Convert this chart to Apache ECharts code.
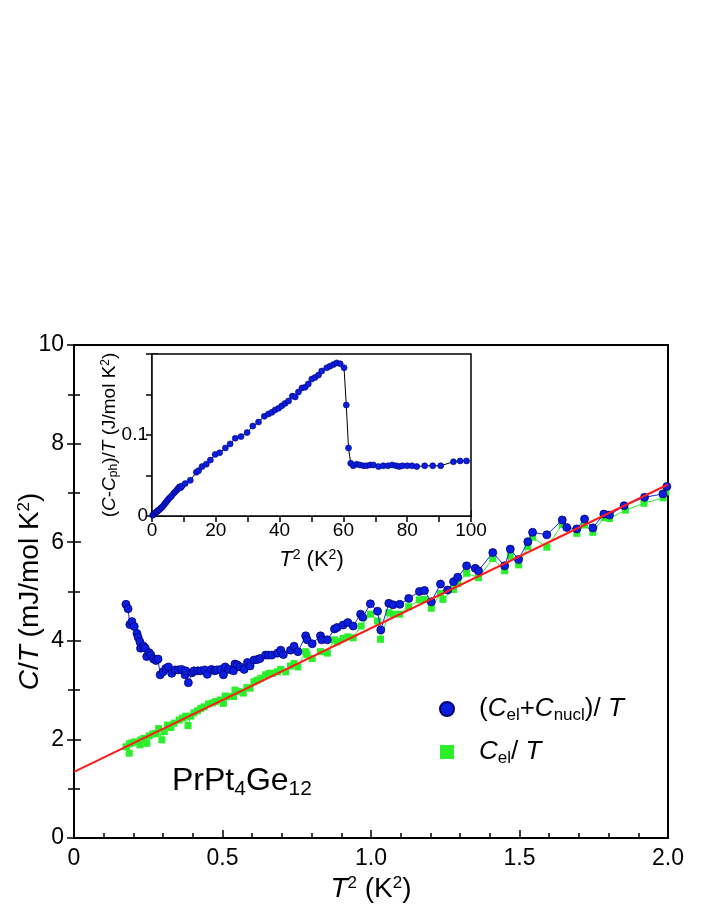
<!DOCTYPE html>
<html>
<head>
<meta charset="utf-8">
<script src="https://cdn.jsdelivr.net/npm/echarts@6/dist/echarts.min.js"></script>
<style>html,body{margin:0;padding:0;background:#fff}#c{width:706px;height:913px}</style>
</head>
<body>
<div id="c"></div>
<script>
// Main panel: (C_el + C_nucl)/T  vs T^2
const blueX = [0.175,0.182,0.188,0.195,0.203,0.212,0.216,0.222,0.224,0.234,0.240,0.245,0.253,0.259,0.268,0.276,0.283,0.290,0.300,0.309,0.318,0.329,0.341,0.351,0.362,0.374,0.376,0.385,0.397,0.404,0.416,0.427,0.440,0.449,0.463,0.474,0.481,0.494,0.503,0.509,0.522,0.537,0.542,0.550,0.559,0.573,0.584,0.593,0.606,0.617,0.626,0.645,0.654,0.666,0.685,0.696,0.705,0.729,0.741,0.754,0.780,0.785,0.802,0.830,0.834,0.853,0.877,0.886,0.906,0.922,0.940,0.965,0.972,0.998,1.022,1.033,1.060,1.074,1.097,1.127,1.163,1.180,1.203,1.234,1.258,1.278,1.292,1.322,1.351,1.362,1.410,1.450,1.469,1.497,1.528,1.544,1.592,1.644,1.659,1.693,1.719,1.747,1.784,1.803,1.852,1.921,1.983,1.996];
const blueY = [4.74,4.65,4.33,4.39,4.29,4.15,4.07,3.98,3.85,3.89,3.85,3.68,3.76,3.71,3.63,3.60,3.63,3.31,3.37,3.44,3.47,3.34,3.41,3.41,3.42,3.31,3.39,3.15,3.35,3.39,3.39,3.39,3.41,3.32,3.42,3.39,3.41,3.42,3.31,3.47,3.42,3.39,3.53,3.51,3.47,3.42,3.56,3.49,3.61,3.62,3.64,3.71,3.71,3.71,3.75,3.81,3.72,3.81,3.89,3.78,4.10,4.02,3.94,4.10,4.02,4.02,4.24,4.27,4.32,4.37,4.30,4.54,4.48,4.75,4.60,4.22,4.76,4.73,4.74,4.86,5.00,5.02,4.79,5.15,5.03,5.20,5.29,5.52,5.47,5.42,5.79,5.52,5.86,5.65,6.01,6.20,6.15,6.45,6.30,6.27,6.47,6.29,6.57,6.55,6.74,6.91,6.98,7.13];
// Main panel: C_el/T vs T^2
const greenX = [0.175,0.186,0.187,0.195,0.205,0.222,0.225,0.236,0.245,0.253,0.265,0.276,0.285,0.296,0.304,0.315,0.326,0.337,0.354,0.365,0.376,0.384,0.393,0.404,0.416,0.427,0.438,0.453,0.466,0.477,0.492,0.503,0.509,0.522,0.537,0.542,0.556,0.570,0.582,0.593,0.606,0.617,0.629,0.645,0.657,0.668,0.685,0.696,0.713,0.729,0.741,0.754,0.780,0.785,0.802,0.830,0.853,0.877,0.886,0.906,0.922,0.940,0.967,0.998,1.022,1.032,1.060,1.074,1.097,1.127,1.163,1.180,1.203,1.234,1.242,1.278,1.292,1.322,1.362,1.410,1.450,1.469,1.497,1.528,1.544,1.592,1.644,1.693,1.719,1.747,1.785,1.803,1.857,1.919,1.984,1.993];
const greenY = [1.85,1.72,1.91,1.93,1.95,1.89,1.99,2.02,1.92,2.07,2.11,2.12,2.22,1.99,2.16,2.29,2.24,2.33,2.39,2.43,2.47,2.28,2.47,2.54,2.58,2.63,2.66,2.72,2.74,2.77,2.80,2.73,2.88,2.87,2.87,3.00,2.97,2.94,3.05,3.04,3.17,3.20,3.24,3.31,3.34,3.34,3.37,3.42,3.37,3.49,3.54,3.47,3.78,3.72,3.64,3.78,3.75,4.02,3.98,4.05,4.08,4.06,4.30,4.54,4.40,4.03,4.57,4.54,4.54,4.69,4.83,4.84,4.66,4.96,4.84,5.04,5.16,5.37,5.28,5.67,5.42,5.72,5.54,5.91,6.10,5.90,6.36,6.18,6.35,6.20,6.50,6.48,6.65,6.79,6.90,7.02];
// Linear fit (red line)
const fitX = [0, 2.0];
const fitY = [1.34, 7.17];
// Inset: (C - C_ph)/T vs T^2
const insetX = [0.2,0.5,0.8,1.1,1.4,1.7,2.0,2.4,2.8,3.2,3.6,4.0,4.4,4.8,5.2,5.7,6.2,6.8,7.3,7.8,8.2,8.6,9.0,9.4,10.4,12.0,13.9,14.6,15.7,17.0,18.3,19.8,21.2,23.0,24.5,26.1,27.9,29.8,31.6,33.4,35.2,36.5,37.6,38.6,39.7,40.7,41.7,42.8,44.0,44.9,45.9,47.0,48.0,49.0,50.1,51.1,52.2,53.2,54.8,55.8,56.9,57.9,59.0,60.2,60.9,61.6,62.3,63.1,64.2,65.2,66.3,67.3,68.4,69.4,71.0,72.5,74.0,75.3,76.5,77.5,78.5,80.0,81.5,83.0,85.5,88.0,90.5,94.5,96.6,98.6];
const insetY = [0.001,0.002,0.003,0.004,0.005,0.006,0.007,0.008,0.010,0.011,0.013,0.015,0.017,0.019,0.021,0.023,0.025,0.028,0.030,0.032,0.034,0.036,0.035,0.037,0.040,0.044,0.054,0.056,0.061,0.064,0.069,0.076,0.078,0.084,0.089,0.096,0.098,0.103,0.111,0.116,0.123,0.126,0.128,0.131,0.133,0.136,0.139,0.142,0.148,0.147,0.153,0.158,0.159,0.163,0.169,0.171,0.174,0.179,0.183,0.185,0.187,0.189,0.188,0.183,0.137,0.084,0.065,0.062,0.064,0.063,0.062,0.062,0.063,0.063,0.061,0.062,0.062,0.063,0.062,0.061,0.062,0.062,0.062,0.061,0.062,0.062,0.062,0.067,0.068,0.068];
// Tick labels
const mainXTicks = ['0','0.5','1.0','1.5','2.0'];
const mainYTicks = ['0','2','4','6','8','10'];
const insetXTicks = ['0','20','40','60','80','100'];
const insetYTicks = ['0','0.1'];

const FONT = "'Liberation Sans', Arial, sans-serif";
const pairs = (xs, ys) => xs.map((x, i) => [x, ys[i]]);

const chart = echarts.init(document.getElementById('c'), null, {renderer: 'canvas'});

const richMain = {
  n: {fontFamily: FONT, fontSize: 28, color: '#000'},
  i: {fontFamily: FONT, fontSize: 28, fontStyle: 'italic', color: '#000'},
  sup: {fontFamily: FONT, fontSize: 17, color: '#000', verticalAlign: 'top', padding: [0, 0, 11, 0]}
};
const richInsetY = {
  n: {fontFamily: FONT, fontSize: 19, color: '#000'},
  i: {fontFamily: FONT, fontSize: 19, fontStyle: 'italic', color: '#000'},
  sup: {fontFamily: FONT, fontSize: 12, color: '#000', verticalAlign: 'top', padding: [0, 0, 8, 0]},
  sub: {fontFamily: FONT, fontSize: 12, color: '#000', verticalAlign: 'bottom', padding: [6, 0, 0, 0]}
};
const richInsetX = {
  n: {fontFamily: FONT, fontSize: 22, color: '#000'},
  i: {fontFamily: FONT, fontSize: 22, fontStyle: 'italic', color: '#000'},
  sup: {fontFamily: FONT, fontSize: 14, color: '#000', verticalAlign: 'top', padding: [0, 0, 9, 0]}
};

const mirrorTick = (len) => ({show: true, inside: true, length: len, lineStyle: {color: '#000', width: 1.5}});

const option = {
  animation: false,
  backgroundColor: '#fff',
  grid: [
    {left: 74, right: 38, top: 345, bottom: 75, containLabel: false, outerBoundsMode: 'none',
     show: true, borderColor: '#000', borderWidth: 2, backgroundColor: 'transparent'},
    {left: 152, right: 235, top: 354, bottom: 397, containLabel: false, outerBoundsMode: 'none',
     show: true, borderColor: '#000', borderWidth: 1.5, backgroundColor: '#fff', z: 5}
  ],
  xAxis: [
    {gridIndex: 0, type: 'value', min: 0, max: 2, interval: 0.5,
     axisLine: {show: true, onZero: false, lineStyle: {color: '#000', width: 2}},
     axisTick: {show: true, inside: true, length: 8, lineStyle: {color: '#000', width: 1.5}},
     minorTick: {show: true, splitNumber: 5, length: 5, lineStyle: {color: '#000', width: 1.5}},
     splitLine: {show: false},
     axisLabel: {fontFamily: FONT, fontSize: 23, color: '#000', margin: 9,
       formatter: v => mainXTicks[Math.round(v / 0.5)]},
     name: '{i|T}{sup|2}{n| (K}{sup|2}{n|)}', nameLocation: 'middle', nameGap: 37, nameMoveOverlap: false,
     nameTextStyle: {rich: richMain}},
    {gridIndex: 1, type: 'value', min: 0, max: 100, interval: 20,
     axisLine: {show: true, onZero: false, lineStyle: {color: '#000', width: 1.5}},
     axisTick: {show: true, inside: true, length: 6, lineStyle: {color: '#000', width: 1.5}},
     minorTick: {show: true, splitNumber: 2, length: 6, lineStyle: {color: '#000', width: 1.5}},
     splitLine: {show: false},
     axisLabel: {fontFamily: FONT, fontSize: 19, color: '#000', margin: 5,
       formatter: v => insetXTicks[Math.round(v / 20)]},
     name: '{i|T}{sup|2}{n| (K}{sup|2}{n|)}', nameLocation: 'middle', nameGap: 32, nameMoveOverlap: false,
     nameTextStyle: {rich: richInsetX}},
    {gridIndex: 1, type: 'value', position: 'top', min: 0, max: 100, interval: 20,
     axisLine: {show: false}, axisLabel: {show: false}, splitLine: {show: false},
     axisTick: mirrorTick(6),
     minorTick: {show: true, splitNumber: 2, length: 6, lineStyle: {color: '#000', width: 1.5}}}
  ],
  yAxis: [
    {gridIndex: 0, type: 'value', min: 0, max: 10, interval: 2,
     axisLine: {show: true, onZero: false, lineStyle: {color: '#000', width: 2}},
     axisTick: {show: true, inside: true, length: 7, lineStyle: {color: '#000', width: 1.5}},
     minorTick: {show: true, splitNumber: 2, length: 6, lineStyle: {color: '#000', width: 1.5}},
     splitLine: {show: false},
     axisLabel: {fontFamily: FONT, fontSize: 23, color: '#000', margin: 10,
       formatter: v => mainYTicks[Math.round(v / 2)]},
     name: '{i|C}{n|/}{i|T}{n| (mJ/mol K}{sup|2}{n|)}', nameLocation: 'middle', nameGap: 30, nameRotate: 90,
     nameMoveOverlap: false, nameTextStyle: {rich: richMain}},
    {gridIndex: 0, type: 'value', position: 'right', min: 0, max: 10, interval: 2,
     axisLine: {show: false}, axisLabel: {show: false}, splitLine: {show: false},
     axisTick: mirrorTick(7),
     minorTick: {show: true, splitNumber: 2, length: 6, lineStyle: {color: '#000', width: 1.5}}},
    {gridIndex: 1, type: 'value', min: 0, max: 0.2, interval: 0.1,
     axisLine: {show: true, onZero: false, lineStyle: {color: '#000', width: 1.5}},
     axisTick: {show: true, inside: true, length: 6, lineStyle: {color: '#000', width: 1.5}},
     minorTick: {show: true, splitNumber: 2, length: 6, lineStyle: {color: '#000', width: 1.5}},
     splitLine: {show: false},
     axisLabel: {fontFamily: FONT, fontSize: 19, color: '#000', margin: 4,
       formatter: v => { const k = Math.round(v / 0.1); return k < insetYTicks.length ? insetYTicks[k] : ''; }},
     name: '{n|(}{i|C}{n|-}{i|C}{sub|ph}{n|)/}{i|T}{n| (J/mol K}{sup|2}{n|)}', nameLocation: 'middle', nameGap: 32, nameRotate: 90,
     nameMoveOverlap: false, nameTextStyle: {rich: richInsetY}},
    {gridIndex: 1, type: 'value', position: 'right', min: 0, max: 0.2, interval: 0.1,
     axisLine: {show: false}, axisLabel: {show: false}, splitLine: {show: false},
     axisTick: mirrorTick(6),
     minorTick: {show: true, splitNumber: 2, length: 6, lineStyle: {color: '#000', width: 1.5}}}
  ],
  legend: {
    orient: 'vertical', left: 434, top: 691, itemWidth: 14, itemHeight: 14, itemGap: 15,
    data: [{name: 'blue', icon: 'circle'}, {name: 'green', icon: 'rect'}],
    formatter: name => name === 'blue'
      ? '{n|(}{i|C}{sub|el}{n|+}{i|C}{sub|nucl}{n|)/ }{i|T}'
      : '{i|C}{sub|el}{n|/ }{i|T}',
    textStyle: {padding: [0, 0, 0, 20], rich: {
      n: {fontFamily: FONT, fontSize: 26, color: '#000', lineHeight: 30},
      i: {fontFamily: FONT, fontSize: 26, fontStyle: 'italic', color: '#000', lineHeight: 30},
      sub: {fontFamily: FONT, fontSize: 17, color: '#000', verticalAlign: 'bottom', lineHeight: 30, padding: [10, 0, 0, 0]}
    }}
  },
  graphic: [
    {type: 'text', left: 172, top: 765, z: 10,
     style: {text: '{n|PrPt}{s|4}{n|Ge}{s|12}', rich: {
       n: {fontFamily: FONT, fontSize: 32, color: '#000', lineHeight: 37},
       s: {fontFamily: FONT, fontSize: 21, color: '#000', verticalAlign: 'bottom', lineHeight: 37, padding: [13, 0, 0, 0]}
     }}}
  ],
  series: [
    {name: 'green', type: 'line', xAxisIndex: 0, yAxisIndex: 0, data: pairs(greenX, greenY),
     symbol: 'rect', symbolSize: 7, showAllSymbol: true,
     itemStyle: {color: '#2bef2b'}, lineStyle: {color: '#2bef2b', width: 1}, z: 2},
    {name: 'blue', type: 'line', xAxisIndex: 0, yAxisIndex: 0, data: pairs(blueX, blueY),
     symbol: 'circle', symbolSize: 8, showAllSymbol: true,
     itemStyle: {color: '#0a1ee0', borderColor: '#000070', borderWidth: 0.8}, lineStyle: {color: '#1428e6', width: 1}, z: 3},
    {name: 'fit', type: 'line', xAxisIndex: 0, yAxisIndex: 0, data: pairs(fitX, fitY),
     symbol: 'none', lineStyle: {color: '#ff1a1a', width: 2}, z: 4},
    {name: 'inset', type: 'line', xAxisIndex: 1, yAxisIndex: 2, data: pairs(insetX, insetY),
     symbol: 'circle', symbolSize: 6, showAllSymbol: true,
     itemStyle: {color: '#0a1ee0', borderColor: '#000070', borderWidth: 0.6}, lineStyle: {color: '#000', width: 1}, z: 6}
  ]
};
chart.setOption(option);
</script>
</body>
</html>
